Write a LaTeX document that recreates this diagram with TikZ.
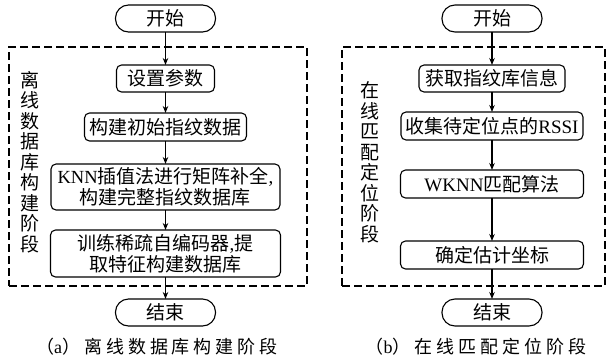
\documentclass[tikz,border=0pt]{standalone}
\usepackage{fontspec}
\setmainfont{Liberation Serif}
\newfontfamily\cj{Noto Sans CJK SC}
\newfontfamily\cjcap{Noto Sans CJK SC}[LetterSpace=22]
\newfontfamily\lat{Liberation Serif}
\newfontfamily\latcap{Liberation Serif}[LetterSpace=10]
\usetikzlibrary{arrows.meta}
\begin{document}
\begin{tikzpicture}[x=1pt,y=-1pt,
  every node/.style={inner sep=0pt, outer sep=0pt, text=black},
  box/.style={draw, line width=1.1pt, rounded corners=5pt, align=center,
    font=\cj\fontsize{19}{21}\selectfont},
  term/.style={draw, line width=1.1pt, rounded corners=13pt,
    minimum width=100pt, minimum height=27pt,
    font=\cj\fontsize{19}{21}\selectfont},
  phase/.style={draw, dash pattern=on 8pt off 4pt, line width=1.1pt},
  flow/.style={line width=1.1pt, -{Stealth[length=7pt,width=5.5pt]}},
  vlabel/.style={align=center, font=\cj\fontsize{19}{20.5}\selectfont},
  captxt/.style={font=\cjcap\fontsize{18}{20}\selectfont}]
\useasboundingbox (0,0) rectangle (606,362);

% dashed phase frames
\node[phase, minimum width=298pt, minimum height=239pt] (P1) at (158,166.5) {};
\node[phase, minimum width=263pt, minimum height=239pt] (P2) at (473.5,166.5) {};

% left flow
\node[term] (s1) at (165.5,18.5) {开始};
\node[box, minimum width=98pt, minimum height=27pt] (a1) at (165.5,78.5) {设置参数};
\node[box, minimum width=162pt, minimum height=28pt] (a2) at (165.5,127) {构建初始指纹数据};
\node[box, minimum width=229pt, minimum height=46pt] (a3) at (165.5,187)
  {{\lat\fontsize{18.5}{21}\selectfont KNN}插值法进行矩阵补全{\lat ,}\\构建完整指纹数据库};
\node[box, minimum width=230pt, minimum height=47pt] (a4) at (165.5,253.5)
  {训练稀疏自编码器{\lat ,}提\\取特征构建数据库};
\node[term] (e1) at (165.5,312.5) {结束};
\node[vlabel] (l1) at (30,162) {离\\线\\数\\据\\库\\构\\建\\阶\\段};
\node[captxt] (c1) at (157,347) {（{\latcap a}）离线数据库构建阶段};

\draw[flow] (s1) -- (a1);
\draw[flow] (a1) -- (a2);
\draw[flow] (a2) -- (a3);
\draw[flow] (a3) -- (a4);
\draw[flow] (a4) -- (e1);

% right flow
\node[term] (s2) at (492,18.5) {开始};
\node[box, minimum width=146pt, minimum height=27pt] (b1) at (492,78.5) {获取指纹库信息};
\node[box, minimum width=182pt, minimum height=28pt] (b2) at (492,126) {收集待定位点的{\lat RSSI}};
\node[box, minimum width=183pt, minimum height=28pt] (b3) at (492,184) {{\lat WKNN}匹配算法};
\node[box, minimum width=183pt, minimum height=28pt] (b4) at (492,255) {确定估计坐标};
\node[term] (e2) at (492,312.5) {结束};
\node[vlabel] (l2) at (370,162.5) {在\\线\\匹\\配\\定\\位\\阶\\段};
\node[captxt] (c2) at (476,347) {（{\latcap b}）在线匹配定位阶段};

\draw[flow] (s2) -- (b1);
\draw[flow] (b1) -- (b2);
\draw[flow] (b2) -- (b3);
\draw[flow] (b3) -- (b4);
\draw[flow] (b4) -- (e2);
\end{tikzpicture}
\end{document}
